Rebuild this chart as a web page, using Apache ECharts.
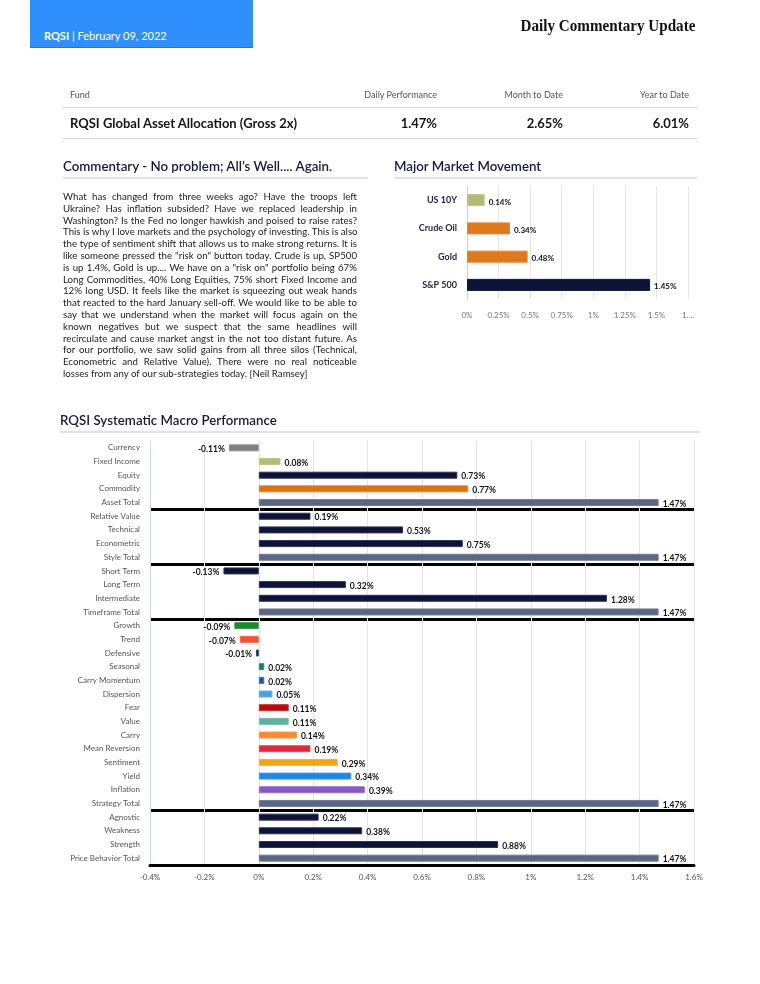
<!DOCTYPE html>
<html>
<head>
<meta charset="utf-8">
<script src="https://cdn.jsdelivr.net/npm/echarts@6/dist/echarts.min.js"></script>
<style>
  html, body { margin:0; padding:0; background:#fff; }
  body { width:760px; height:984px; position:relative; overflow:hidden; font-family: Lato, "Noto Sans", sans-serif; }
  #chart { position:absolute; left:0; top:0; width:760px; height:984px; }
  .abs { position:absolute; white-space:nowrap; }
  .hdrbox { position:absolute; left:30px; top:0; width:223px; height:47px; background:#2f8ffc; border-bottom:1px solid #1f78e0; }
  .hdrtxt { left:44px; top:29px; font-size:11px; color:#fff; }
  .title { right:65px; top:16px; font-family:"Liberation Serif","DejaVu Serif",serif; font-weight:bold; font-size:17px; color:#111; transform:scaleX(0.89); transform-origin:right center; }
  .th { top:89px; font-size:9px; color:#555; }
  .td { top:115px; font-size:13px; font-weight:bold; color:#151515; }
  .hr { position:absolute; height:1px; background:#dadada; }
  .sec { font-size:13.3px; color:#161b3d; font-weight:600; }
  .para { position:absolute; left:63px; top:191px; width:294px; font-size:9.7px; line-height:11.8px; color:#222; }
  .para div { white-space:nowrap; text-align:justify; text-align-last:justify; }
  .para div.last { text-align:left; text-align-last:left; }
</style>
</head>
<body>
<div id="chart"></div>
<div class="hdrbox"></div>
<div class="abs hdrtxt"><b>RQSI</b> | February 09, 2022</div>
<div class="abs title">Daily Commentary Update</div>

<div class="abs th" style="left:70px;">Fund</div>
<div class="abs th" style="right:323px;">Daily Performance</div>
<div class="abs th" style="right:197px;">Month to Date</div>
<div class="abs th" style="right:71px;">Year to Date</div>
<div class="hr" style="left:62px; width:636px; top:107px;"></div>
<div class="abs td" style="left:70px;">RQSI Global Asset Allocation (Gross 2x)</div>
<div class="abs td" style="right:323px;">1.47%</div>
<div class="abs td" style="right:197px;">2.65%</div>
<div class="abs td" style="right:71px;">6.01%</div>
<div class="hr" style="left:62px; width:636px; top:138px;"></div>

<div class="abs sec" style="left:63px; top:158px;">Commentary - No problem; All’s Well.... Again.</div>
<div class="hr" style="left:63px; width:305px; top:177px; height:2px; background:#e2e2e2;"></div>
<div class="para">
<div>What has changed from three weeks ago? Have the troops left</div>
<div>Ukraine? Has inflation subsided? Have we replaced leadership in</div>
<div>Washington? Is the Fed no longer hawkish and poised to raise rates?</div>
<div>This is why I love markets and the psychology of investing. This is also</div>
<div>the type of sentiment shift that allows us to make strong returns. It is</div>
<div>like someone pressed the "risk on" button today. Crude is up, SP500</div>
<div>is up 1.4%, Gold is up.... We have on a "risk on" portfolio being 67%</div>
<div>Long Commodities, 40% Long Equities, 75% short Fixed Income and</div>
<div>12% long USD. It feels like the market is squeezing out weak hands</div>
<div>that reacted to the hard January sell-off. We would like to be able to</div>
<div>say that we understand when the market will focus again on the</div>
<div>known negatives but we suspect that the same headlines will</div>
<div>recirculate and cause market angst in the not too distant future. As</div>
<div>for our portfolio, we saw solid gains from all three silos (Technical,</div>
<div>Econometric and Relative Value). There were no real noticeable</div>
<div class="last">losses from any of our sub-strategies today. [Neil Ramsey]</div>
</div>

<div class="abs sec" style="left:394px; top:158px;">Major Market Movement</div>
<div class="hr" style="left:394px; width:303px; top:177px; height:2px; background:#e2e2e2;"></div>

<div class="abs sec" style="left:60px; top:412px;">RQSI Systematic Macro Performance</div>
<div class="hr" style="left:60px; width:640px; top:431px; height:2px; background:#e2e2e2;"></div>

<script>
// ---- Major Market Movement data ----
const mmCats = ['US 10Y', 'Crude Oil', 'Gold', 'S&P 500'];
const mmVals = [0.14, 0.34, 0.48, 1.45];
const mmColors = ['#b6b879', '#dd7a1f', '#dd7a1f', '#0d1536'];
const mmTicks = ['0%', '0.25%', '0.5%', '0.75%', '1%', '1.25%', '1.5%', '1....'];

// ---- RQSI Systematic Macro Performance data ----
const spCats = ['Currency', 'Fixed Income', 'Equity', 'Commodity', 'Asset Total',
  'Relative Value', 'Technical', 'Econometric', 'Style Total',
  'Short Term', 'Long Term', 'Intermediate', 'Timeframe Total',
  'Growth', 'Trend', 'Defensive', 'Seasonal', 'Carry Momentum', 'Dispersion', 'Fear', 'Value',
  'Carry', 'Mean Reversion', 'Sentiment', 'Yield', 'Inflation', 'Strategy Total',
  'Agnostic', 'Weakness', 'Strength', 'Price Behavior Total'];
const spVals = [-0.11, 0.08, 0.73, 0.77, 1.47,
  0.19, 0.53, 0.75, 1.47,
  -0.13, 0.32, 1.28, 1.47,
  -0.09, -0.07, -0.01, 0.02, 0.02, 0.05, 0.11, 0.11,
  0.14, 0.19, 0.29, 0.34, 0.39, 1.47,
  0.22, 0.38, 0.88, 1.47];
const spColors = ['#808080', '#b8ba78', '#0c1238', '#d9730f', '#5a6684',
  '#0c1238', '#0c1238', '#0c1238', '#5a6684',
  '#0c1238', '#0c1238', '#0c1238', '#5a6684',
  '#1b8a2b', '#f5502f', '#1a2040', '#147a6a', '#1f56a8', '#4aa0dc', '#b80c0c', '#5fb0a0',
  '#f58a35', '#e0283c', '#f2a516', '#1e88e5', '#8a57c2', '#5a6684',
  '#0c1238', '#0c1238', '#0c1238', '#5a6684'];
const spSeparators = [5, 9, 13, 27];
const spTicks = ['-0.4%', '-0.2%', '0%', '0.2%', '0.4%', '0.6%', '0.8%', '1%', '1.2%', '1.4%', '1.6%'];

const chart = echarts.init(document.getElementById('chart'));
const fontFam = 'Lato, "Noto Sans", sans-serif';

chart.setOption({
  animation: false,
  textStyle: { fontFamily: fontFam },
  grid: [
    { left: 467, top: 186, width: 221, height: 113, containLabel: false },
    { left: 150, top: 441, width: 544, height: 424, containLabel: false }
  ],
  xAxis: [
    {
      gridIndex: 0, type: 'value', min: 0, max: 1.75, interval: 0.25,
      axisLine: { show: false }, axisTick: { show: false },
      splitLine: { lineStyle: { color: '#e6e6e6', width: 1 } },
      axisLabel: { fontSize: 8, color: '#777', margin: 12, fontFamily: fontFam,
        formatter: (v, i) => mmTicks[i] }
    },
    {
      gridIndex: 1, type: 'value', min: -0.4, max: 1.6, interval: 0.2,
      axisLine: { show: true, lineStyle: { color: '#000', width: 3 } }, axisTick: { show: false },
      splitLine: { lineStyle: { color: '#e4e4e4', width: 1 } },
      axisLabel: { fontSize: 8, color: '#555', margin: 8, fontFamily: fontFam,
        formatter: (v, i) => spTicks[i] }
    }
  ],
  yAxis: [
    {
      gridIndex: 0, type: 'category', inverse: true, data: mmCats,
      axisLine: { show: true, onZero: false, lineStyle: { color: '#c8d1e3' } },
      axisTick: { show: false },
      axisLabel: { fontSize: 9, fontWeight: 'bold', color: '#1b2244', margin: 10, fontFamily: fontFam }
    },
    {
      gridIndex: 1, type: 'category', inverse: true, data: spCats,
      axisLine: { show: true, onZero: false, lineStyle: { color: '#cfd6e4' } },
      axisTick: { show: false },
      splitLine: { show: true, interval: (idx) => spSeparators.indexOf(idx) >= 0,
        lineStyle: { color: '#000', width: 3 } },
      axisLabel: { fontSize: 8, color: '#555', margin: 10, fontFamily: fontFam }
    }
  ],
  series: [
    {
      type: 'bar', xAxisIndex: 0, yAxisIndex: 0, barWidth: 12,
      data: mmVals.map((v, i) => ({ value: v, itemStyle: { color: mmColors[i], borderColor: echarts.color.lift(mmColors[i], -0.08), borderWidth: 1 } })),
      label: { show: true, position: 'right', distance: 4, offset: [0, 2], fontSize: 8, fontWeight: 'bold', color: '#111',
        fontFamily: fontFam, formatter: p => p.value.toFixed(2) + '%' }
    },
    {
      type: 'bar', xAxisIndex: 1, yAxisIndex: 1, barWidth: 7,
      data: spVals.map((v, i) => ({
        value: v,
        itemStyle: { color: spColors[i], borderColor: echarts.color.lift(spColors[i], 0.15), borderWidth: 1 },
        label: { position: v < 0 ? 'left' : 'right' }
      })),
      label: { show: true, distance: 4, offset: [0, 1.5], fontSize: 8.5, fontWeight: 'bold', color: '#111',
        fontFamily: fontFam, formatter: p => p.value.toFixed(2) + '%' }
    }
  ]
});
</script>
</body>
</html>
